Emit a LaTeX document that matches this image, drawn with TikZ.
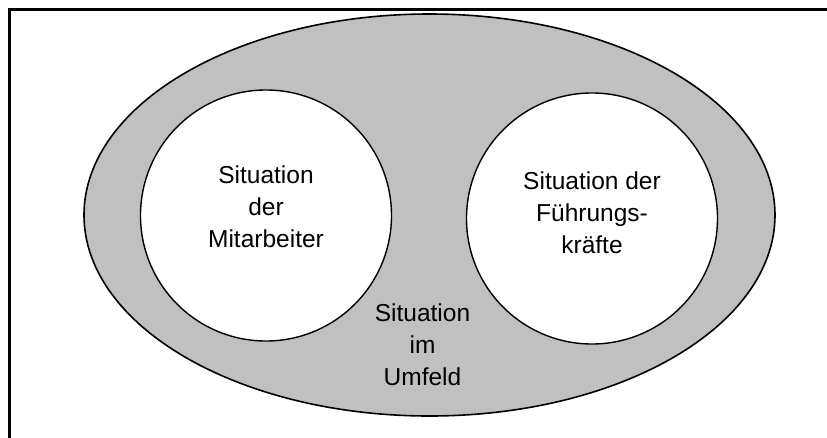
\documentclass[tikz,border=0pt]{standalone}
\usepackage{fontspec}
\setmainfont{Liberation Sans}
\usetikzlibrary{shapes.geometric}
\definecolor{ringgray}{HTML}{C0C0C0}
\tikzset{
  frameline/.style={line width=2.5pt, line cap=rect},
  outerell/.style={ellipse, draw, fill=ringgray, line width=1.6pt, inner sep=0pt, minimum width=691pt, minimum height=402pt},
  innercirc/.style={circle, draw, fill=white, line width=1.4pt, inner sep=0pt, minimum size=251pt},
  lbl/.style={align=center, inner sep=0pt, font=\fontsize{24.5}{32}\selectfont}
}
\begin{document}
\begin{tikzpicture}[x=1pt,y=-1pt]
\useasboundingbox (0,0) rectangle (827,437);
\coordinate (fbl) at (9.5,440);
\coordinate (ftl) at (9.5,9.5);
\coordinate (ftr) at (830,9.5);
\draw[frameline] (fbl) -- (ftl) -- (ftr);
\node[outerell] (umfeld) at (429.5,215) {};
\node[innercirc] (mit) at (266,215.5) {};
\node[innercirc] (fuehr) at (592,218.5) {};
\node[lbl] (tmit) at (266,207) {Situation\\der\\Mitarbeiter};
\node[lbl] (tfuehr) at (592,213) {Situation der\\Führungs-\\kräfte};
\node[lbl] (tumf) at (422.5,345) {Situation\\im\\Umfeld};
\end{tikzpicture}
\end{document}
